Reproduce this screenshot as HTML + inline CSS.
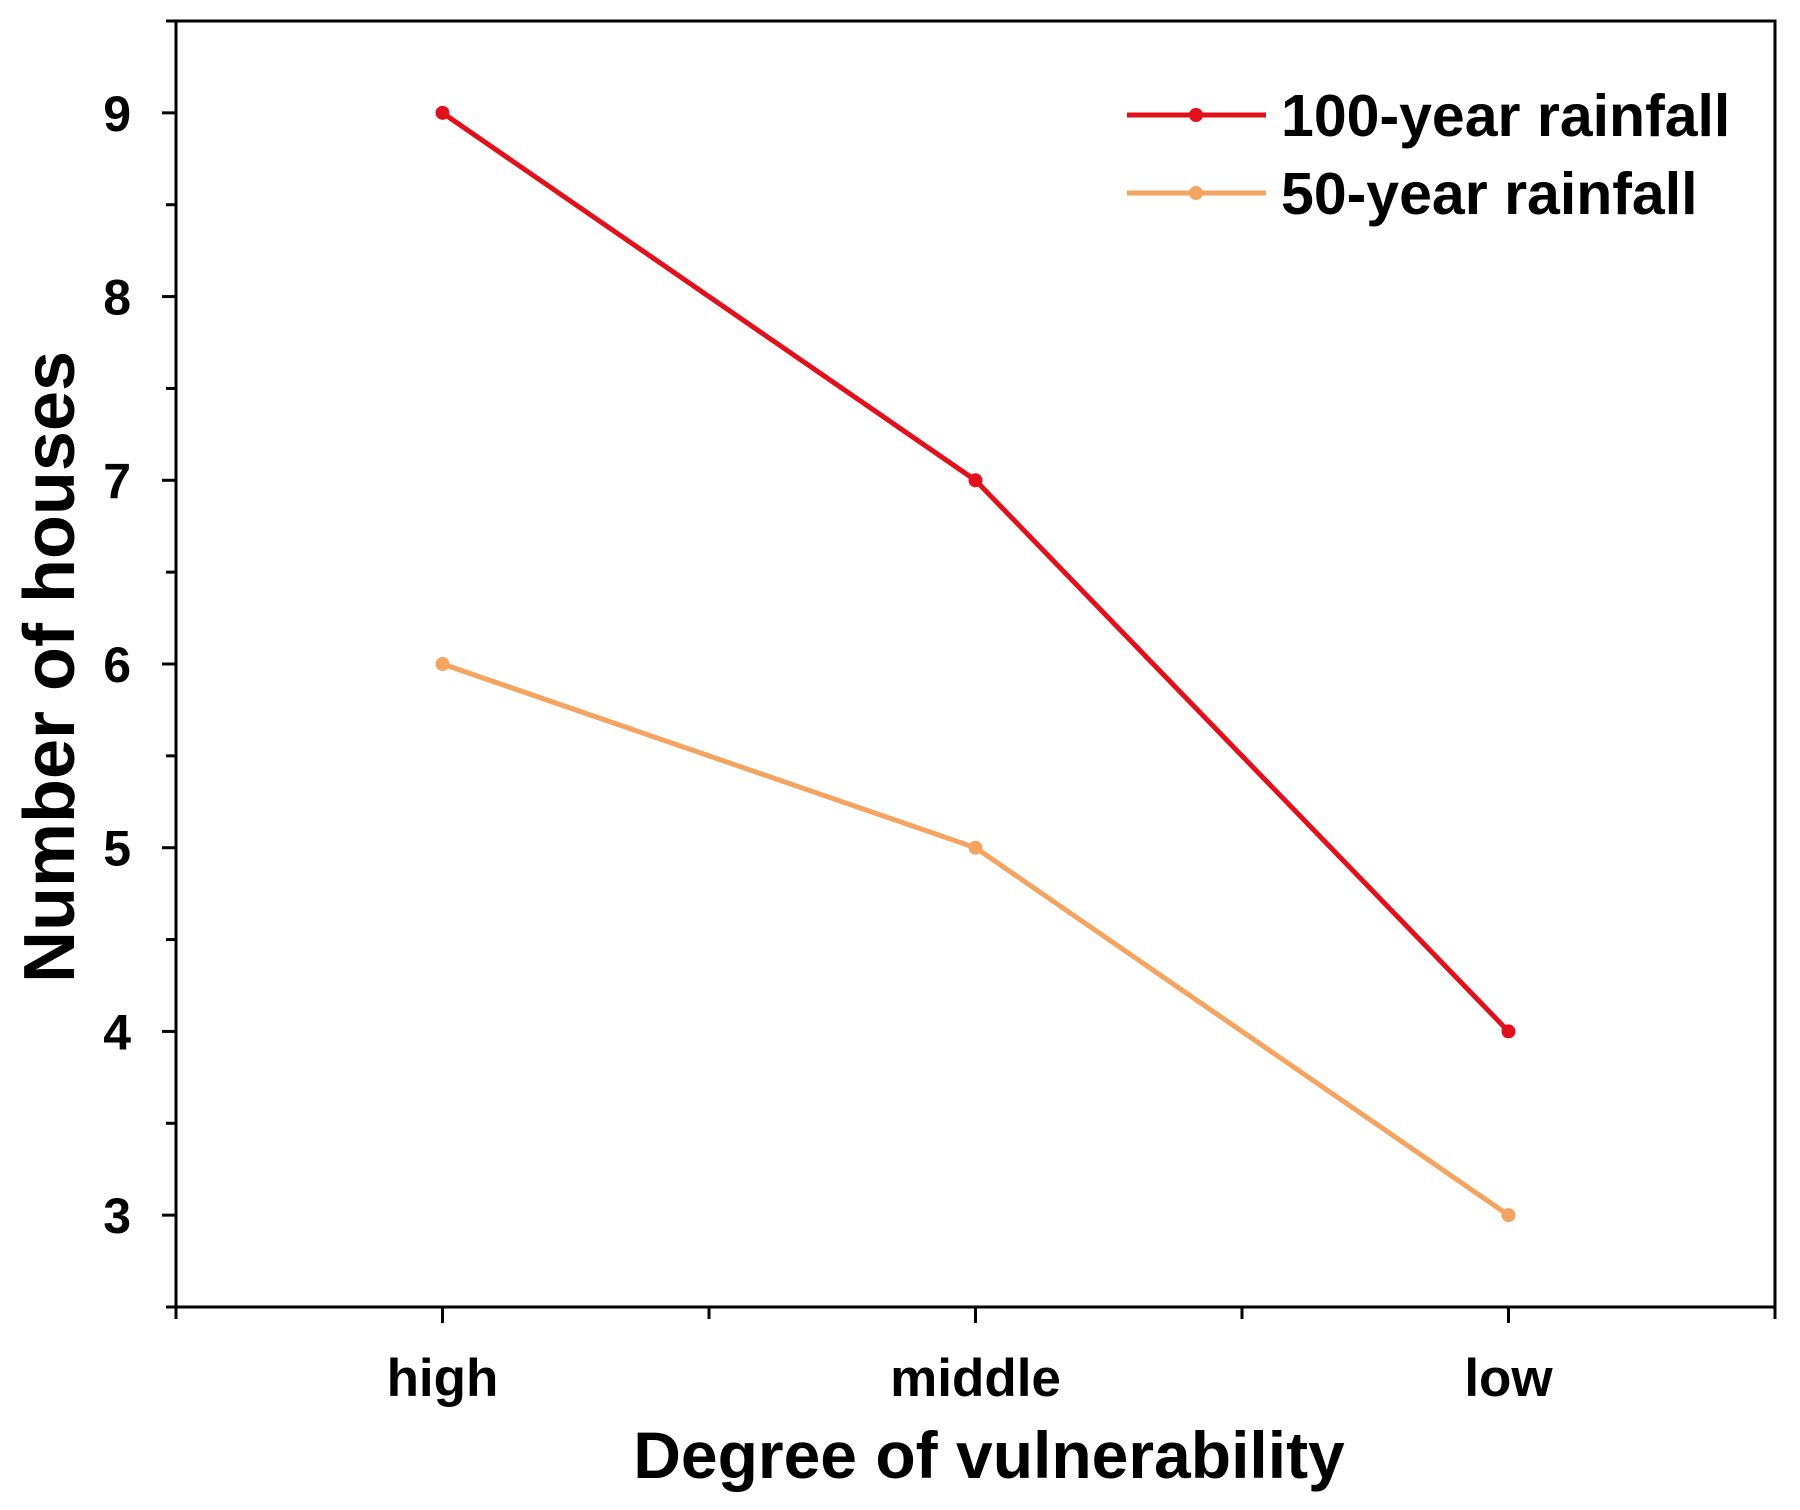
<!DOCTYPE html>
<html><head><meta charset="utf-8"><style>
body{margin:0;background:#fff}
svg{display:block;font-family:"Liberation Sans",Arial,sans-serif;font-weight:bold}
</style></head><body>
<svg id="chart" width="1800" height="1510" viewBox="0 0 1800 1510">
<g id="axes"></g><g id="series"></g>
<g>
<line x1="1127" y1="115" x2="1266" y2="115" stroke="#e2101a" stroke-width="5"/>
<circle cx="1196" cy="115" r="7" fill="#e2101a"/>
<text x="1281" y="136" font-size="59">100-year rainfall</text>
<line x1="1127" y1="193" x2="1266" y2="193" stroke="#f4a460" stroke-width="5"/>
<circle cx="1196" cy="193" r="7" fill="#f4a460"/>
<text x="1281" y="214" font-size="59">50-year rainfall</text>
</g>
<text x="989" y="1478" font-size="66" text-anchor="middle">Degree of vulnerability</text>
<text transform="translate(74,667) rotate(-90)" font-size="72" text-anchor="middle">Number of houses</text>
</svg>
<script>
const categories=["high","middle","low"];
const series100=[9,7,4];
const series50=[6,5,3];
const yTicks=[3,4,5,6,7,8,9];
const L=176,R=1775,T=21,B=1307;
const xs=i=>L+(i+0.5)*(R-L)/3;
const ys=v=>B-(v-2.5)*(B-T)/7;
const NS="http://www.w3.org/2000/svg";
const axes=document.getElementById('axes'),ser=document.getElementById('series');
function mk(tag,attrs,parent){const e=document.createElementNS(NS,tag);for(const k in attrs)e.setAttribute(k,attrs[k]);parent.appendChild(e);return e;}
const frame=mk('rect',{x:L,y:T,width:R-L,height:B-T,fill:'none',stroke:'#000','stroke-width':3},axes);


for(let v=2.5;v<=9.5;v+=0.5){
 const major=Number.isInteger(v);
 const t=mk('line',{x1:L,x2:L-(major?14:10),y1:ys(v),y2:ys(v),stroke:'#000','stroke-width':3},axes);
 
 
}
yTicks.forEach(v=>{
 const t=mk('text',{x:131,y:ys(v)+18,'font-size':50,'text-anchor':'end'},axes);t.textContent=v;
 
 
});
for(let i=-0.5;i<=2.5;i+=0.5){
 const major=Number.isInteger(i);
 const t=mk('line',{x1:xs(i),x2:xs(i),y1:B,y2:B+(major?16:12),stroke:'#000','stroke-width':3},axes);
 
 
}
categories.forEach((c,i)=>{
 const t=mk('text',{x:xs(i),y:1396,'font-size':53,'text-anchor':'middle'},axes);t.textContent=c;
 
 
});
function draw(data,color,name){
 const p=mk('polyline',{points:data.map((v,i)=>xs(i)+','+ys(v)).join(' '),fill:'none',stroke:color,'stroke-width':5},ser);
 
 
 data.forEach((v,i)=>{
  const c=mk('circle',{cx:xs(i),cy:ys(v),r:7,fill:color},ser);
  
  
 });
}
draw(series50,'#f4a460','series-50-year');
draw(series100,'#e2101a','series-100-year');
</script>
</body></html>
